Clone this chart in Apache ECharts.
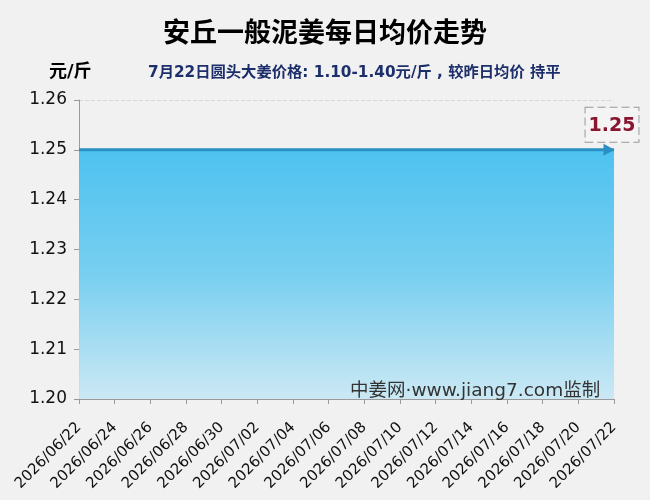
<!DOCTYPE html>
<html>
<head>
<meta charset="utf-8">
<script src="https://cdn.jsdelivr.net/npm/echarts@6/dist/echarts.min.js"></script>
<style>
  html, body { margin: 0; padding: 0; background: #f1f1f1; }
  #chart { width: 650px; height: 500px; }
</style>
</head>
<body>
<div id="chart"></div>
<script>
const dates = [
  '2026/06/22', '2026/06/23', '2026/06/24', '2026/06/25', '2026/06/26', '2026/06/27',
  '2026/06/28', '2026/06/29', '2026/06/30', '2026/07/01', '2026/07/02', '2026/07/03',
  '2026/07/04', '2026/07/05', '2026/07/06', '2026/07/07', '2026/07/08', '2026/07/09',
  '2026/07/10', '2026/07/11', '2026/07/12', '2026/07/13', '2026/07/14', '2026/07/15',
  '2026/07/16', '2026/07/17', '2026/07/18', '2026/07/19', '2026/07/20', '2026/07/21',
  '2026/07/22'
];
const prices = [
  1.25, 1.25, 1.25, 1.25, 1.25, 1.25, 1.25, 1.25, 1.25, 1.25, 1.25, 1.25,
  1.25, 1.25, 1.25, 1.25, 1.25, 1.25, 1.25, 1.25, 1.25, 1.25, 1.25, 1.25,
  1.25, 1.25, 1.25, 1.25, 1.25, 1.25, 1.25
];
const yMin = 1.20;
const yMax = 1.26;
const yStep = 0.01;

const titleText = '安丘一般泥姜每日均价走势';
const subText = '7月22日圆头大姜价格: 1.10-1.40元/斤 , 较昨日均价 持平';
const unitText = '元/斤';
const markText = '中姜网·www.jiang7.com监制';

const mixFont = 'DejaVu Sans, Noto Sans CJK SC, sans-serif';

const chart = echarts.init(document.getElementById('chart'));

const lastIdx = prices.length - 1;
const seriesData = prices.map((v, i) => {
  if (i !== lastIdx) return { value: v, symbolSize: 0 };
  return {
    value: v,
    symbol: 'triangle',
    symbolRotate: -90,
    symbolSize: [12, 11],
    symbolOffset: [-5, 0],
    label: {
      show: true,
      position: 'top',
      offset: [3, 3],
      formatter: '{c}',
      color: '#8a1530',
      fontSize: 19,
      fontWeight: 'bold',
      fontFamily: 'DejaVu Sans',
      padding: [9, 3, 6, 3],
      borderColor: '#999',
      borderWidth: 1,
      borderType: 'dashed',
      backgroundColor: '#f4f4f4'
    }
  };
});

chart.setOption({
  backgroundColor: '#f1f1f1',
  animation: false,
  title: [
    {
      text: titleText,
      left: 'center',
      top: 13,
      textStyle: { fontSize: 27, fontWeight: 'bold', color: '#000', fontFamily: 'Noto Sans CJK SC' }
    },
    {
      text: subText,
      left: 143,
      top: 60,
      textStyle: { fontSize: 15.3, fontWeight: 'bold', color: '#1d2f6b', fontFamily: mixFont }
    },
    {
      text: unitText,
      left: 44,
      top: 58,
      textStyle: { fontSize: 18, fontWeight: 'bold', color: '#000', fontFamily: mixFont }
    }
  ],
  graphic: [
    {
      type: 'text',
      left: 350,
      top: 382,
      z: 100,
      style: { text: markText, fontSize: 18.5, fill: '#333', fontFamily: mixFont }
    }
  ],
  grid: { left: 79, right: 36, top: 100, bottom: 101 },
  xAxis: {
    type: 'category',
    data: dates,
    boundaryGap: false,
    axisLine: { lineStyle: { color: '#999' } },
    axisTick: { interval: 1, alignWithLabel: true, lineStyle: { color: '#999' } },
    axisLabel: {
      interval: 1,
      rotate: 45,
      color: '#111',
      fontSize: 15,
      fontFamily: 'DejaVu Sans',
      margin: 26,
      padding: [10, 0, 0, 0]
    },
    splitLine: { show: false }
  },
  yAxis: {
    type: 'value',
    min: yMin,
    max: yMax,
    interval: yStep,
    axisLine: { show: true, lineStyle: { color: '#999' } },
    axisTick: { show: true, lineStyle: { color: '#999' } },
    axisLabel: {
      color: '#111',
      fontSize: 17,
      fontFamily: 'DejaVu Sans',
      formatter: v => v.toFixed(2),
      margin: 12
    },
    splitLine: { lineStyle: { color: '#d8d8d8', type: 'dashed' } }
  },
  series: [
    {
      type: 'line',
      data: seriesData,
      symbol: 'none',
      lineStyle: { color: '#2a90c4', width: 3 },
      itemStyle: { color: '#2a90c4' },
      areaStyle: {
        opacity: 0.95,
        color: new echarts.graphic.LinearGradient(0, 0, 0, 1, [
          { offset: 0, color: '#45c0f0' },
          { offset: 0.5, color: '#72cdf0' },
          { offset: 1, color: '#c9e8f4' }
        ])
      }
    }
  ]
});
</script>
</body>
</html>
